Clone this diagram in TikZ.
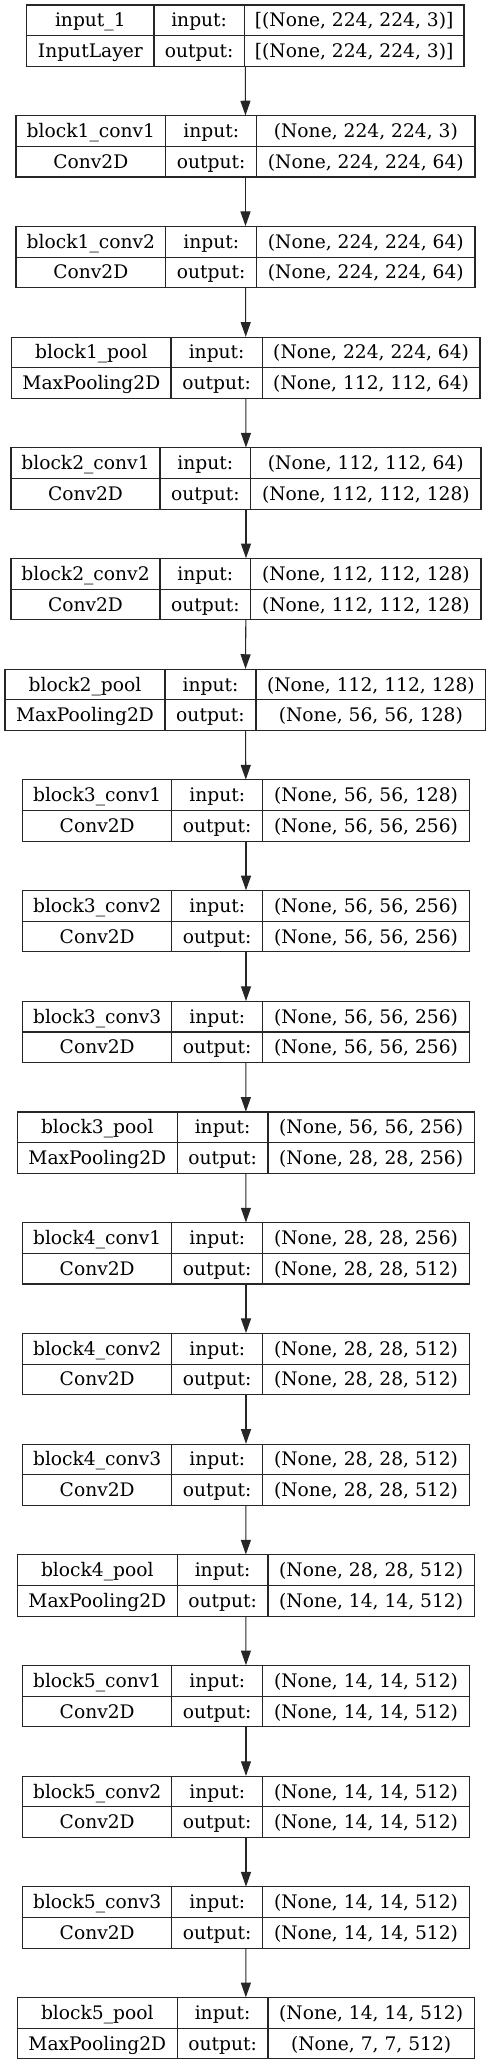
\documentclass[tikz,border=0pt]{standalone}
\usepackage{fontspec}
\setmainfont{DejaVu Serif}
\usetikzlibrary{arrows.meta}
\tikzstyle{cell}=[draw=black!85, line width=0.8pt, inner sep=0pt, minimum height=23pt,
    text height=12.8pt, text depth=3pt, font=\fontsize{14}{17}\selectfont]
\tikzstyle{layerbox}=[inner sep=0pt, minimum height=46pt]
% column edges of the record, in px
\newcommand{\setcols}[4]{\def\xa{#1}\def\xb{#2}\def\xc{#3}\def\xd{#4}}
% id, row, name, class, input shape, output shape
\newcommand{\netlayer}[6]{%
  \pgfmathsetmacro{\yt}{5+#2*110.7}
  \node[layerbox, minimum width={(\xd-\xa)*0.75pt}] (#1) at ({(\xa+\xd)/2},{\yt+30.65}) {};
  \node[cell, minimum width={(\xb-\xa)*0.75pt}] (#1-n) at ({(\xa+\xb)/2},{\yt+15.33}) {#3};
  \node[cell, minimum width={(\xb-\xa)*0.75pt}] (#1-t) at ({(\xa+\xb)/2},{\yt+45.98}) {#4};
  \node[cell, minimum width={(\xc-\xb)*0.75pt}] (#1-il) at ({(\xb+\xc)/2},{\yt+15.33}) {input:};
  \node[cell, minimum width={(\xc-\xb)*0.75pt}] (#1-ol) at ({(\xb+\xc)/2},{\yt+45.98}) {output:};
  \node[cell, minimum width={(\xd-\xc)*0.75pt}] (#1-i) at ({(\xc+\xd)/2},{\yt+15.33}) {#5};
  \node[cell, minimum width={(\xd-\xc)*0.75pt}] (#1-o) at ({(\xc+\xd)/2},{\yt+45.98}) {#6};
}

\begin{document}
\begin{tikzpicture}[x=0.75pt, y=-0.75pt
    ,every edge/.style={draw=black!85, line width=0.8pt,
        -{Triangle[length=11pt,width=7.5pt]}}
]
\useasboundingbox (0,0) rectangle (492,2065);
\setcols{26.7}{154}{244.3}{464}
\netlayer{in}{0}{input\_1}{InputLayer}{[(None, 224, 224, 3)]}{[(None, 224, 224, 3)]}
\setcols{16}{165.7}{256.7}{475}
\netlayer{b1c1}{1}{block1\_conv1}{Conv2D}{(None, 224, 224, 3)}{(None, 224, 224, 64)}
\netlayer{b1c2}{2}{block1\_conv2}{Conv2D}{(None, 224, 224, 64)}{(None, 224, 224, 64)}
\setcols{11.7}{171}{262.3}{480}
\netlayer{b1p}{3}{block1\_pool}{MaxPooling2D}{(None, 224, 224, 64)}{(None, 112, 112, 64)}
\setcols{11}{160}{250.7}{481}
\netlayer{b2c1}{4}{block2\_conv1}{Conv2D}{(None, 112, 112, 64)}{(None, 112, 112, 128)}
\netlayer{b2c2}{5}{block2\_conv2}{Conv2D}{(None, 112, 112, 128)}{(None, 112, 112, 128)}
\setcols{5}{165}{256}{485.7}
\netlayer{b2p}{6}{block2\_pool}{MaxPooling2D}{(None, 112, 112, 128)}{(None, 56, 56, 128)}
\setcols{22.7}{171.7}{262.7}{469.3}
\netlayer{b3c1}{7}{block3\_conv1}{Conv2D}{(None, 56, 56, 128)}{(None, 56, 56, 256)}
\netlayer{b3c2}{8}{block3\_conv2}{Conv2D}{(None, 56, 56, 256)}{(None, 56, 56, 256)}
\netlayer{b3c3}{9}{block3\_conv3}{Conv2D}{(None, 56, 56, 256)}{(None, 56, 56, 256)}
\setcols{17.3}{177.3}{268}{474.3}
\netlayer{b3p}{10}{block3\_pool}{MaxPooling2D}{(None, 56, 56, 256)}{(None, 28, 28, 256)}
\setcols{22.7}{171.7}{262.7}{469.3}
\netlayer{b4c1}{11}{block4\_conv1}{Conv2D}{(None, 28, 28, 256)}{(None, 28, 28, 512)}
\netlayer{b4c2}{12}{block4\_conv2}{Conv2D}{(None, 28, 28, 512)}{(None, 28, 28, 512)}
\netlayer{b4c3}{13}{block4\_conv3}{Conv2D}{(None, 28, 28, 512)}{(None, 28, 28, 512)}
\setcols{17.3}{177.3}{268}{474.3}
\netlayer{b4p}{14}{block4\_pool}{MaxPooling2D}{(None, 28, 28, 512)}{(None, 14, 14, 512)}
\setcols{22.7}{171.7}{262.7}{469.3}
\netlayer{b5c1}{15}{block5\_conv1}{Conv2D}{(None, 14, 14, 512)}{(None, 14, 14, 512)}
\netlayer{b5c2}{16}{block5\_conv2}{Conv2D}{(None, 14, 14, 512)}{(None, 14, 14, 512)}
\netlayer{b5c3}{17}{block5\_conv3}{Conv2D}{(None, 14, 14, 512)}{(None, 14, 14, 512)}
\setcols{17.3}{177.3}{268}{474.3}
\netlayer{b5p}{18}{block5\_pool}{MaxPooling2D}{(None, 14, 14, 512)}{(None, 7, 7, 512)}
\path
(in) edge (b1c1)
(b1c1) edge (b1c2)
(b1c2) edge (b1p)
(b1p) edge (b2c1)
(b2c1) edge (b2c2)
(b2c2) edge (b2p)
(b2p) edge (b3c1)
(b3c1) edge (b3c2)
(b3c2) edge (b3c3)
(b3c3) edge (b3p)
(b3p) edge (b4c1)
(b4c1) edge (b4c2)
(b4c2) edge (b4c3)
(b4c3) edge (b4p)
(b4p) edge (b5c1)
(b5c1) edge (b5c2)
(b5c2) edge (b5c3)
(b5c3) edge (b5p)
;
\end{tikzpicture}
\end{document}
